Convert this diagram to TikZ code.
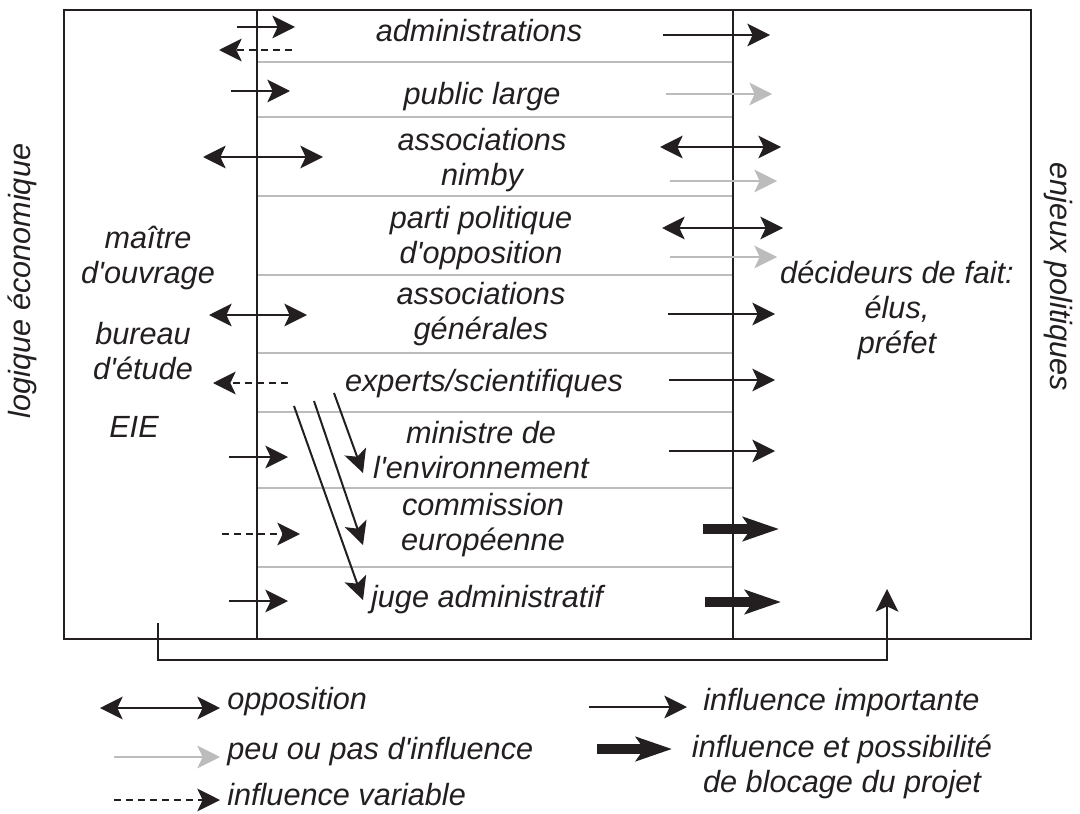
\documentclass[tikz,border=0pt]{standalone}
\usepackage{fontspec}
\setmainfont{Liberation Sans}
\usetikzlibrary{arrows.meta}
\definecolor{ink}{RGB}{35,31,32}
\definecolor{pale}{RGB}{188,188,188}
\newcommand{\ap}{\textquotesingle}

\begin{document}
\begin{tikzpicture}[x=0.75pt, y=-0.75pt, >={Stealth[length=17pt, width=17pt, inset=4pt]},
    font=\fontsize{23}{26.25}\selectfont\itshape]

    % Styles
    \tikzstyle{txt} = [inner sep=0pt, align=center, text=ink]
    \tikzstyle{cadre} = [draw=ink, line width=1.6pt]
    \tikzstyle{pilier} = [draw=ink, line width=2.2pt]
    \tikzstyle{sep} = [draw=pale, line width=1.5pt]
    \tikzstyle{fort} = [draw=ink, line width=1.5pt, ->]
    \tikzstyle{oppo} = [draw=ink, line width=1.5pt, <->]
    \tikzstyle{faible} = [draw=pale, line width=1.5pt, ->]
    \tikzstyle{vague} = [draw=ink, line width=1.5pt, dash pattern=on 5pt off 4pt, ->]
    \tikzstyle{blocage} = [draw=ink, line width=8pt, -{Stealth[length=27pt, width=18pt, inset=6pt]}]

    \useasboundingbox (0,0) rectangle (1080,813);

    % Frame
    \foreach \y in {62,117,196,275,353,412,488,567}
        \draw[sep] (257,\y) -- (733,\y);
    \draw[cadre] (64,10) rectangle (1031,639);
    \draw[pilier] (257,10) -- (257,639);
    \draw[pilier] (733,10) -- (733,639);

    % Nodes
    \node[txt] (admin) at (479,31) {administrations};
    \node[txt] (public) at (482,97) {public large};
    \node[txt] (nimby) at (482,160) {associations\\nimby};
    \node[txt] (parti) at (481,238) {parti politique\\d\ap opposition};
    \node[txt] (assocgen) at (481,314) {associations\\générales};
    \node[txt] (experts) at (484,384) {experts/scientifiques};
    \node[txt] (ministre) at (481,450) {ministre de\\l\ap environnement};
    \node[txt] (commission) at (483,525) {commission\\européenne};
    \node[txt] (juge) at (487,600) {juge administratif};

    \node[txt] (maitre) at (148,258) {maître\\d\ap ouvrage};
    \node[txt] (bureau) at (143,351) {bureau\\d\ap étude};
    \node[txt] (eie) at (134,427) {EIE};
    \node[txt] (decideurs) at (897,310) {décideurs de fait:\\élus,\\préfet};
    \node[txt, rotate=90] (logique) at (22,281) {logique économique};
    \node[txt, rotate=-90] (enjeux) at (1058,277) {enjeux politiques};

    % Arrows left
    \draw[fort] (237,27) -- (295,27);
    \draw[vague] (292,50) -- (219,50);
    \draw[fort] (231,91) -- (290,91);
    \draw[oppo] (203,157) -- (323,157);
    \draw[oppo] (209,315) -- (307,315);
    \draw[vague] (288,383) -- (213,383);
    \draw[fort] (229,457) -- (288,457);
    \draw[vague] (222,534) -- (300,534);
    \draw[fort] (229,601) -- (288,601);

    % Arrows right
    \draw[fort] (663,35) -- (770,35);
    \draw[faible] (666,94) -- (772,94);
    \draw[oppo] (660,147) -- (781,147);
    \draw[faible] (670,181) -- (777,181);
    \draw[oppo] (662,228) -- (783,228);
    \draw[faible] (670,257) -- (777,257);
    \draw[fort] (668,314) -- (775,314);
    \draw[fort] (669,380) -- (775,380);
    \draw[fort] (669,451) -- (775,451);
    \draw[blocage] (703,529) -- (779,529);
    \draw[blocage] (705,602) -- (781,602);

    % Experts towards the others
    \draw[fort] (334,393) -- (363,473);
    \draw[fort] (314,401) -- (363,545);
    \draw[fort] (294,406) -- (363,600);

    % Feedback
    \draw[fort, line width=1.6pt] (158,623) -- (158,660) -- (887,660) -- (887,589);

    % Legend
    \node[txt, anchor=west] (legopp) at (227,702) {opposition};
    \node[txt, anchor=west] (legfaible) at (227,752) {peu ou pas d\ap influence};
    \node[txt, anchor=west] (legvar) at (227,795) {influence variable};
    \node[txt, anchor=west] (legfort) at (703,703) {influence importante};
    \node[txt] (legbloc) at (842,767) {influence et possibilité\\de blocage du projet};
    \draw[oppo] (100,708) -- (220,708);
    \draw[faible] (114,757) -- (220,757);
    \draw[vague] (114,800) -- (220,800);
    \draw[fort] (589,707) -- (687,707);
    \draw[blocage] (597,749) -- (672,749);

\end{tikzpicture}
\end{document}
